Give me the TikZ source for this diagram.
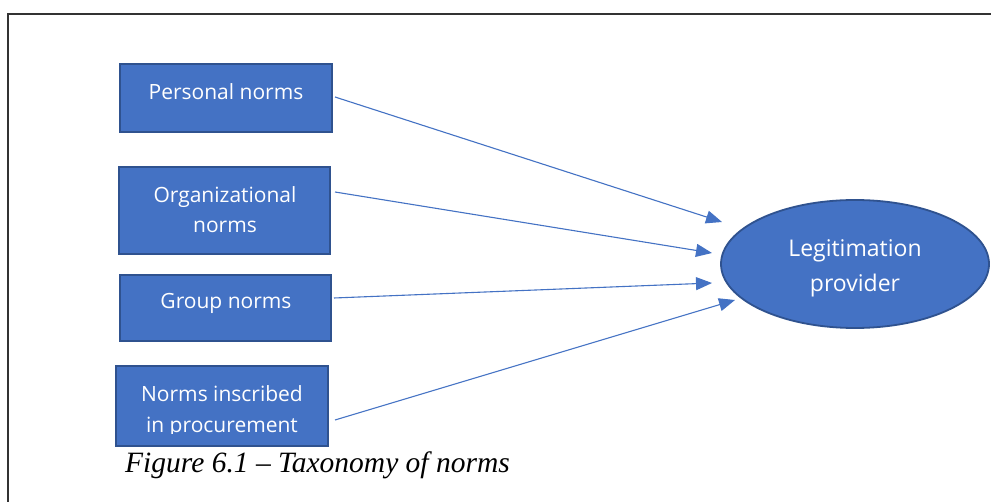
\documentclass[tikz,border=0pt]{standalone}
\usepackage{fontspec}
\setmainfont{Liberation Serif}
\newfontfamily\boxfont{Open Sans}
\usetikzlibrary{arrows.meta,shapes.geometric}
\definecolor{boxblue}{HTML}{4472C4}
\definecolor{boxedge}{HTML}{2F528F}

\begin{document}
\begin{tikzpicture}[x=1pt,y=-1pt,
  normbox/.style={draw=boxedge, fill=boxblue, line width=1.8pt, inner sep=0pt, rectangle},
  boxtext/.style={text=white, font=\boxfont\fontsize{21}{30}\selectfont, align=center, inner sep=0pt, anchor=base},
  link/.style={draw=boxblue, line width=1.1pt, -{Triangle[length=16pt,width=13pt]}}
]
\useasboundingbox (0,0) rectangle (991,502);
\fill[white] (0,0) rectangle (991,502);
% open frame around the figure
\draw[line width=1.5pt, draw=black!80] (8,502) -- (8,14) -- (991,14);

% norm boxes (text nodes are anchored on the baseline of their last line)
\node[normbox, minimum width=212pt, minimum height=68pt] (pers) at (226,98) {};
\node[boxtext] (perstxt) at (226,100) {Personal norms};

\node[normbox, minimum width=211pt, minimum height=87pt] (org) at (224.5,210.5) {};
\node[boxtext] (orgtxt) at (225,233) {Organizational\\norms};

\node[normbox, minimum width=211pt, minimum height=66pt] (grp) at (225.5,308) {};
\node[boxtext] (grptxt) at (226,309) {Group norms};

\node[normbox, minimum width=212pt, minimum height=80pt] (proc) at (222,406) {};
\begin{scope}
  \clip (116,360) rectangle (328,433.5);
  \node[boxtext, font=\boxfont\fontsize{21}{32}\selectfont] (proctxt) at (222,433) {Norms inscribed\\in procurement};
\end{scope}

% target ellipse
\node[ellipse, draw=boxedge, fill=boxblue, line width=1.8pt, inner sep=0pt,
      minimum width=268pt, minimum height=128pt] (legit) at (855,264) {};
\node[boxtext, font=\boxfont\fontsize{23}{35}\selectfont] (legittxt) at (855,292) {Legitimation\\provider};

% connector ends
\coordinate (s1) at (335,97);
\coordinate (s2) at (335,192);
\coordinate (s3) at (334,298);
\coordinate (s4) at (335,420);
\coordinate (e1) at (722,222);
\coordinate (e2) at (712,253);
\coordinate (e3) at (712,283);
\coordinate (e4) at (735,300);

\draw[link] (s1) -- (e1);
\draw[link] (s2) -- (e2);
\draw[link] (s3) -- (e3);
\draw[link] (s4) -- (e4);

% caption
\node[anchor=base west, inner sep=0pt, font=\itshape\fontsize{29.5}{34}\selectfont] (caption) at (125,472)
  {Figure 6.1 -- Taxonomy of norms};
\end{tikzpicture}
\end{document}
